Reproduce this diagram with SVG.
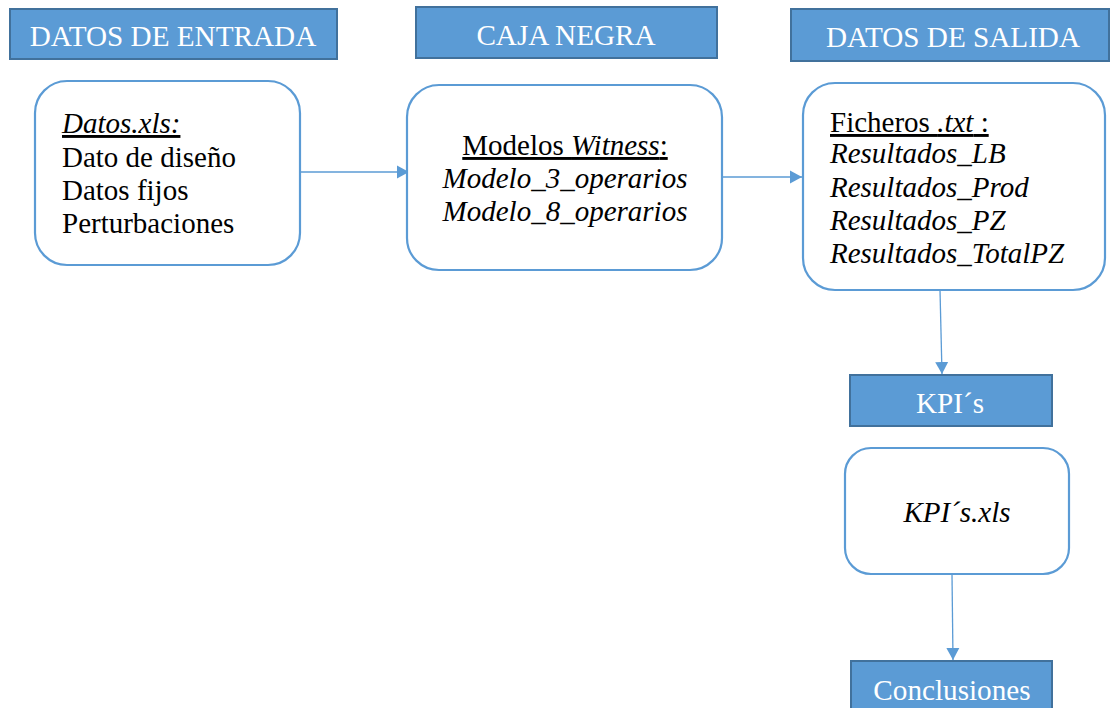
<svg xmlns="http://www.w3.org/2000/svg" width="1112" height="708" viewBox="0 0 1112 708">
<style>
.hdr{fill:#5B9BD5;stroke:#41719C;stroke-width:2}
.hdrt{font-family:"Liberation Serif","Times New Roman",serif;font-size:29.2px;fill:#FFFFFF;text-anchor:middle}
.box{fill:#FFFFFF;stroke:#5B9BD5;stroke-width:2.2}
.t{font-family:"Liberation Serif","Times New Roman",serif;font-size:29px;fill:#000000}
.i{font-style:italic}
.c{text-anchor:middle}
.con{stroke:#5B9BD5;stroke-width:1.3;fill:none;marker-end:url(#ah)}
</style>
<defs>
<marker id="ah" markerWidth="14" markerHeight="14" refX="12" refY="7" orient="auto" markerUnits="userSpaceOnUse">
<path d="M0,0.5 L12,7 L0,13.5 Z" fill="#5B9BD5"/>
</marker>
</defs>
<rect width="1112" height="708" fill="#FFFFFF"/>
<g id="connectors">
<line class="con" x1="300" y1="172" x2="409" y2="172"/>
<line class="con" x1="722" y1="177" x2="802" y2="177"/>
<line class="con" x1="940" y1="290" x2="942" y2="374"/>
<line class="con" x1="952" y1="575" x2="953" y2="660"/>
</g>
<g id="h-entrada">
<rect class="hdr" x="10" y="9" width="327" height="50"/>
<text class="hdrt" x="173" y="46">DATOS DE ENTRADA</text>
</g>
<g id="h-caja">
<rect class="hdr" x="416" y="7" width="301" height="51"/>
<text class="hdrt" x="566" y="45">CAJA NEGRA</text>
</g>
<g id="h-salida">
<rect class="hdr" x="791" y="9" width="318" height="52"/>
<text class="hdrt" x="953" y="47">DATOS DE SALIDA</text>
</g>
<g id="n-entrada">
<rect class="box" x="35" y="81" width="265" height="184" rx="32" ry="32"/>
<text class="t i" x="62" y="133" text-decoration="underline">Datos.xls:</text>
<text class="t" x="62" y="167">Dato de diseño</text>
<text class="t" x="62" y="200">Datos fijos</text>
<text class="t" x="62" y="233">Perturbaciones</text>
</g>
<g id="n-caja">
<rect class="box" x="407" y="85" width="315" height="185" rx="32" ry="32"/>
<text class="t c" x="565" y="155" text-decoration="underline">Modelos <tspan class="i">Witness</tspan>:</text>
<text class="t i c" x="565" y="188">Modelo_3_operarios</text>
<text class="t i c" x="565" y="221">Modelo_8_operarios</text>
</g>
<g id="n-salida">
<rect class="box" x="803" y="83" width="302" height="207" rx="32" ry="32"/>
<text class="t" x="830" y="132" text-decoration="underline">Ficheros <tspan class="i">.txt</tspan> :</text>
<text class="t i" x="830" y="163">Resultados_LB</text>
<text class="t i" x="830" y="197">Resultados_Prod</text>
<text class="t i" x="830" y="230">Resultados_PZ</text>
<text class="t i" x="830" y="263">Resultados_TotalPZ</text>
</g>
<g id="h-kpi">
<rect class="hdr" x="850" y="375" width="202" height="51"/>
<text class="hdrt" x="950" y="413">KPI´s</text>
</g>
<g id="n-kpi">
<rect class="box" x="845" y="448" width="224" height="126" rx="26" ry="26"/>
<text class="t i c" x="957" y="522">KPI´s.xls</text>
</g>
<g id="h-conclusiones">
<rect class="hdr" x="851" y="661" width="201" height="60"/>
<text class="hdrt" x="952" y="700">Conclusiones</text>
</g>
</svg>
